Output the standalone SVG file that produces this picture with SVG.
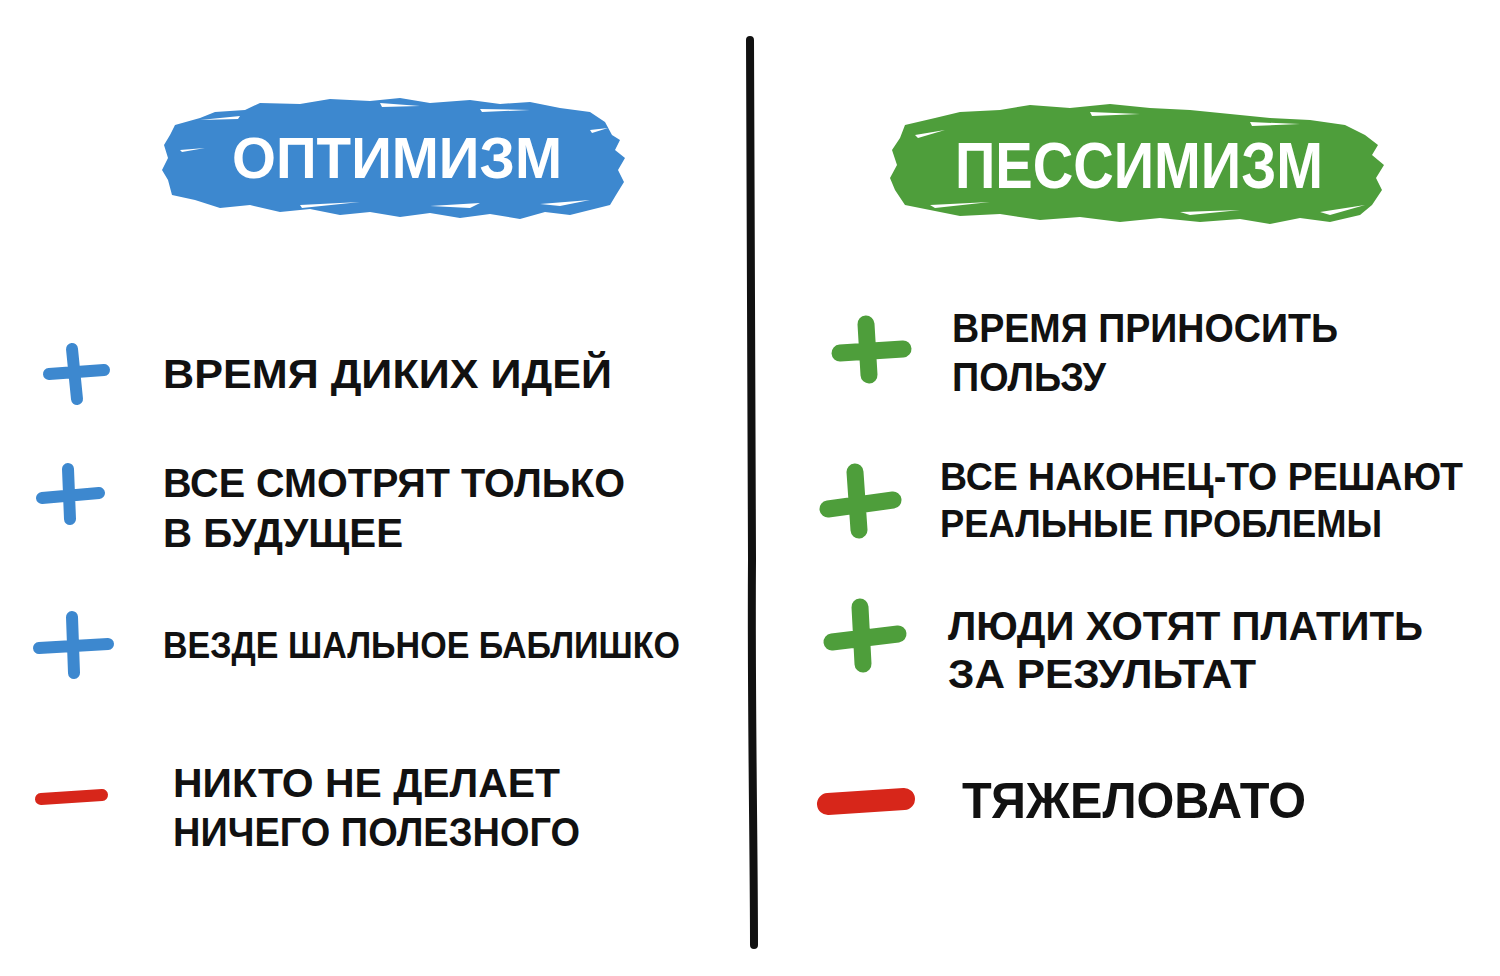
<svg xmlns="http://www.w3.org/2000/svg" width="1500" height="976" viewBox="0 0 1500 976">
<style>
.t{font-family:"Liberation Sans",Arial,sans-serif;font-weight:700;fill:#111;}
.h{font-family:"Liberation Sans",Arial,sans-serif;font-weight:700;fill:#fff;}
.bl{stroke:#3d88cf;stroke-linecap:round;fill:none;}
.gr{stroke:#4e9e3b;stroke-linecap:round;fill:none;}
.rd{stroke:#d7261a;stroke-linecap:round;fill:none;}
.streak{fill:#fff;}
</style>
<rect width="1500" height="976" fill="#fff"/>

<g id="divider">
<path d="M750,40 C749,200 753,400 752,560 C751,700 754,850 754,945" stroke="#111" stroke-width="8" fill="none" stroke-linecap="round"/>
</g>

<g id="heading-optimism">
<path fill="#3d88cf" d="M175,125 L200,118 L215,112 L245,110 L260,103 L300,104 L330,99 L370,101 L400,98 L430,103 L470,100 L500,104 L530,102 L560,108 L590,112 L605,122 L612,135 L620,140 L615,150 L625,158 L618,170 L624,182 L616,195 L610,205 L590,210 L570,215 L545,212 L520,219 L490,214 L460,218 L430,213 L400,217 L370,212 L340,215 L310,209 L280,212 L250,205 L220,208 L195,200 L172,195 L168,180 L162,170 L168,158 L164,145 L170,135 Z"/>
<path class="streak" d="M200,120 L240,116 L238,119 Z M380,103 L420,106 L382,107 Z M480,109 L530,110 L482,112 Z M180,150 L205,148 L182,152 Z M300,205 L360,202 L302,208 Z M430,206 L480,203 L470,208 Z M540,204 L590,200 L560,206 Z M590,130 L608,128 L592,133 Z"/>
<text class="h" x="232" y="178" font-size="58" textLength="330" lengthAdjust="spacingAndGlyphs">ОПТИМИЗМ</text>
</g>

<g id="heading-pessimism">
<path fill="#4e9e3b" d="M905,125 L935,118 L960,112 L1000,110 L1030,105 L1070,108 L1110,104 L1150,108 L1190,110 L1230,114 L1270,118 L1310,120 L1345,125 L1365,135 L1378,145 L1372,155 L1384,165 L1376,178 L1382,190 L1372,205 L1360,215 L1330,222 L1300,218 L1270,224 L1240,219 L1200,222 L1160,218 L1120,222 L1080,217 L1040,220 L1000,214 L960,216 L930,210 L905,205 L895,190 L890,178 L897,165 L892,150 L900,138 Z"/>
<path class="streak" d="M915,135 L945,130 L918,138 Z M1090,112 L1140,114 L1092,116 Z M1250,122 L1300,124 L1252,126 Z M930,205 L990,202 L935,208 Z M1180,212 L1240,210 L1190,215 Z M1320,212 L1365,205 L1330,215 Z"/>
<text class="h" x="955" y="188" font-size="64" textLength="368" lengthAdjust="spacingAndGlyphs">ПЕССИМИЗМ</text>
</g>

<g id="opt-1">
<path class="bl" stroke-width="12" d="M49,374 L104,370 M72,349 L77,399"/>
<text class="t" x="163" y="388" font-size="41" textLength="449" lengthAdjust="spacingAndGlyphs">ВРЕМЯ ДИКИХ ИДЕЙ</text>
</g>
<g id="opt-2">
<path class="bl" stroke-width="12" d="M42,498 L99,493 M68,469 L70,519"/>
<text class="t" x="163" y="497" font-size="41" textLength="462" lengthAdjust="spacingAndGlyphs">ВСЕ СМОТРЯТ ТОЛЬКО</text>
<text class="t" x="163" y="547" font-size="41" textLength="240" lengthAdjust="spacingAndGlyphs">В БУДУЩЕЕ</text>
</g>
<g id="opt-3">
<path class="bl" stroke-width="12" d="M39,648 L108,644 M72,617 L74,673"/>
<text class="t" x="163" y="658" font-size="37" textLength="517" lengthAdjust="spacingAndGlyphs">ВЕЗДЕ ШАЛЬНОЕ БАБЛИШКО</text>
</g>
<g id="opt-minus">
<path class="rd" stroke-width="12" d="M41,799 L102,795"/>
<text class="t" x="173" y="797" font-size="41" textLength="387" lengthAdjust="spacingAndGlyphs">НИКТО НЕ ДЕЛАЕТ</text>
<text class="t" x="173" y="846" font-size="41" textLength="407" lengthAdjust="spacingAndGlyphs">НИЧЕГО ПОЛЕЗНОГО</text>
</g>

<g id="pes-1">
<path class="gr" stroke-width="17" d="M840,353 L903,349 M866,324 L869,375"/>
<text class="t" x="952" y="342" font-size="41" textLength="386" lengthAdjust="spacingAndGlyphs">ВРЕМЯ ПРИНОСИТЬ</text>
<text class="t" x="952" y="391" font-size="41" textLength="154" lengthAdjust="spacingAndGlyphs">ПОЛЬЗУ</text>
</g>
<g id="pes-2">
<path class="gr" stroke-width="17" d="M828,509 L893,500 M855,472 L859,530"/>
<text class="t" x="940" y="490" font-size="39" textLength="523" lengthAdjust="spacingAndGlyphs">ВСЕ НАКОНЕЦ-ТО РЕШАЮТ</text>
<text class="t" x="940" y="537" font-size="39" textLength="442" lengthAdjust="spacingAndGlyphs">РЕАЛЬНЫЕ ПРОБЛЕМЫ</text>
</g>
<g id="pes-3">
<path class="gr" stroke-width="17" d="M832,642 L898,634 M860,607 L863,664"/>
<text class="t" x="948" y="640" font-size="41" textLength="475" lengthAdjust="spacingAndGlyphs">ЛЮДИ ХОТЯТ ПЛАТИТЬ</text>
<text class="t" x="948" y="688" font-size="41" textLength="308" lengthAdjust="spacingAndGlyphs">ЗА РЕЗУЛЬТАТ</text>
</g>
<g id="pes-minus">
<path class="rd" stroke-width="22" d="M828,804 L904,799"/>
<text class="t" x="962" y="818" font-size="50" textLength="344" lengthAdjust="spacingAndGlyphs">ТЯЖЕЛОВАТО</text>
</g>
</svg>
